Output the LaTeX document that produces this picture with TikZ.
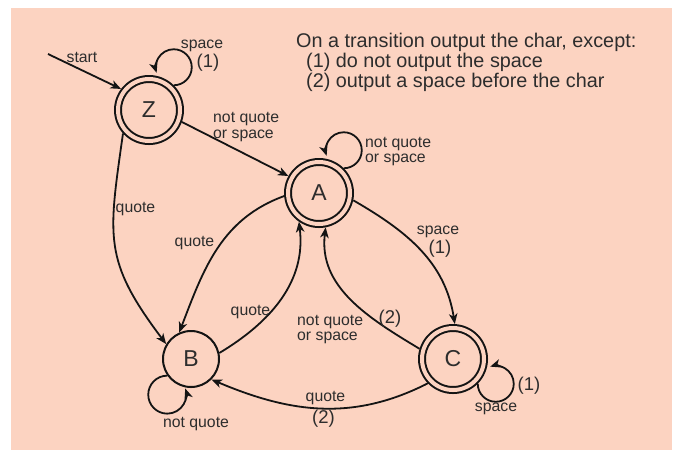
\documentclass[tikz,border=0pt]{standalone}
\usepackage{fontspec}
\setmainfont{Liberation Sans}
\usetikzlibrary{arrows.meta}
\definecolor{bg}{RGB}{252,211,193}
\definecolor{ink}{RGB}{20,20,20}
\definecolor{txt}{RGB}{45,45,45}
\begin{document}
\begin{tikzpicture}[x=1pt,y=1pt,
  every node/.style={text=txt},
  st/.style={circle, draw=ink, line width=2pt, minimum size=56pt, inner sep=0pt, font=\fontsize{23}{23}\selectfont},
  acc/.style={st, minimum size=62pt, double=bg, double distance=4pt, outer sep=4pt},
  lbl/.style={font=\fontsize{15.8}{16.5}\selectfont, inner sep=0pt, anchor=base},
  lblw/.style={lbl, anchor=base west},
  num/.style={font=\fontsize{18.5}{19}\selectfont, inner sep=0pt, anchor=base},
  note/.style={font=\fontsize{19.8}{20}\selectfont, inner sep=0pt, anchor=base west},
  edge/.style={draw=ink, line width=1.8pt, -{Stealth[length=10.5pt,width=8.5pt,inset=3pt]}},
]
\useasboundingbox (0,0) rectangle (676,-451);
\fill[bg] (11,-8) rectangle (672,-450);

% states
\node[acc] (Z) at (149,-110) {Z};
\node[acc] (A) at (319,-193) {A};
\node[st]  (B) at (191,-359) {B};
\node[acc] (C) at (453,-359) {C};

% note
\node[note] (n1) at (296,-47) {On a transition output the char, except:};
\node[note] (n2) at (306,-67) {(1) do not output the space};
\node[note] (n3) at (306,-87) {(2) output a space before the char};

% start
\coordinate (s) at (48,-54);
\draw[edge] (s) -- (Z.143);
\node[lbl] (lstart) at (82,-62) {start};

% edges
\draw[edge] (Z.-138) to[out=-98,in=127,looseness=1.25] (B.149);
\draw[edge] (Z.-20) -- (A.151);
\draw[edge] (A.185) to[out=200,in=69] (B.114);
\draw[edge] (B.12) to[out=31,in=-83] (A.-125);
\draw[edge] (A.-12) to[out=-30,in=99] (C.87);
\draw[edge] (C.163) to[out=149,in=-97] (A.-79);
\draw[edge] (C.-136) to[out=-153,in=-23] (B.-45);

% loops
\draw[edge] (Z.45) arc[start angle=-90,end angle=198,radius=18];
\draw[edge] (A.45) arc[start angle=-90,end angle=198,radius=18];
\draw[edge] (C.-45) arc[start angle=180,end angle=468,radius=18];
\draw[edge] (B.215) arc[start angle=90,end angle=379,radius=19];

% labels
\node[lbl] (lz1) at (202,-48) {space};
\node[num] (lz2) at (208,-67) {(1)};
\node[lblw] (lza1) at (213,-122.5) {not quote};
\node[lblw] (lza2) at (213,-138) {or space};
\node[lbl] (lzb) at (135.5,-212) {quote};
\node[lblw] (la1) at (365,-147) {not quote};
\node[lblw] (la2) at (365,-162) {or space};
\node[lbl] (lab) at (194.5,-246) {quote};
\node[lbl] (lba) at (250.5,-315) {quote};
\node[lblw] (lca1) at (297,-325) {not quote};
\node[lblw] (lca2) at (297,-340) {or space};
\node[num] (lca3) at (390,-323.5) {(2)};
\node[lbl] (lac1) at (438,-234) {space};
\node[num] (lac2) at (440,-253) {(1)};
\node[num] (lc1) at (529,-390) {(1)};
\node[lbl] (lc2) at (496,-411) {space};
\node[lbl] (lcb1) at (325.5,-401) {quote};
\node[num] (lcb2) at (323.5,-423) {(2)};
\node[lbl] (lb) at (196,-427) {not quote};
\end{tikzpicture}
\end{document}
